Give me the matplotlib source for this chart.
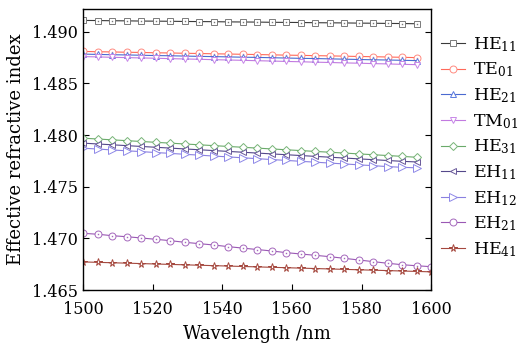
import matplotlib
matplotlib.use("Agg")
import matplotlib.pyplot as plt

plt.rcParams['font.family'] = ['DejaVu Serif']
plt.rcParams['mathtext.fontset'] = 'dejavuserif'

# Wavelength grid (nm)
wavelength = [1500.00, 1504.17, 1508.33, 1512.50, 1516.67, 1520.83, 1525.00, 1529.17,
              1533.33, 1537.50, 1541.67, 1545.83, 1550.00, 1554.17, 1558.33, 1562.50,
              1566.67, 1570.83, 1575.00, 1579.17, 1583.33, 1587.50, 1591.67, 1595.83,
              1600.00]

he11 = [1.49110, 1.49109, 1.49107, 1.49106, 1.49104, 1.49103, 1.49102, 1.49100,
        1.49099, 1.49098, 1.49096, 1.49095, 1.49094, 1.49092, 1.49091, 1.49090,
        1.49088, 1.49087, 1.49086, 1.49084, 1.49083, 1.49081, 1.49080, 1.49078]
te01 = [1.48810, 1.48807, 1.48805, 1.48802, 1.48800, 1.48797, 1.48795, 1.48792,
        1.48790, 1.48787, 1.48785, 1.48782, 1.48780, 1.48777, 1.48774, 1.48772,
        1.48769, 1.48767, 1.48764, 1.48761, 1.48759, 1.48756, 1.48753, 1.48750]
he21 = [1.48784, 1.48781, 1.48778, 1.48776, 1.48773, 1.48770, 1.48768, 1.48765,
        1.48762, 1.48760, 1.48757, 1.48754, 1.48752, 1.48749, 1.48746, 1.48743,
        1.48741, 1.48738, 1.48735, 1.48732, 1.48729, 1.48727, 1.48724, 1.48721]
tm01 = [1.48760, 1.48757, 1.48753, 1.48750, 1.48747, 1.48744, 1.48740, 1.48737,
        1.48734, 1.48730, 1.48727, 1.48724, 1.48720, 1.48717, 1.48713, 1.48710,
        1.48706, 1.48703, 1.48699, 1.48696, 1.48692, 1.48689, 1.48685, 1.48682]
he31 = [1.47970, 1.47962, 1.47954, 1.47946, 1.47938, 1.47930, 1.47922, 1.47914,
        1.47906, 1.47898, 1.47890, 1.47882, 1.47874, 1.47866, 1.47858, 1.47850,
        1.47842, 1.47834, 1.47826, 1.47818, 1.47810, 1.47802, 1.47794, 1.47785]
eh11 = [1.47922, 1.47914, 1.47906, 1.47898, 1.47890, 1.47882, 1.47874, 1.47866,
        1.47858, 1.47850, 1.47842, 1.47834, 1.47826, 1.47818, 1.47810, 1.47802,
        1.47794, 1.47786, 1.47778, 1.47770, 1.47762, 1.47754, 1.47746, 1.47740]
eh12 = [1.47873, 1.47865, 1.47856, 1.47848, 1.47840, 1.47831, 1.47823, 1.47814,
        1.47806, 1.47797, 1.47789, 1.47780, 1.47772, 1.47763, 1.47755, 1.47746,
        1.47738, 1.47729, 1.47721, 1.47712, 1.47704, 1.47695, 1.47688, 1.47683]
eh21 = [1.47049, 1.47040, 1.47026, 1.47016, 1.47004, 1.46991, 1.46978, 1.46962,
        1.46949, 1.46936, 1.46920, 1.46906, 1.46892, 1.46878, 1.46862, 1.46849,
        1.46836, 1.46823, 1.46807, 1.46791, 1.46775, 1.46759, 1.46745, 1.46735,
        1.46726]
he41 = [1.46772, 1.46768, 1.46764, 1.46760, 1.46756, 1.46752, 1.46748, 1.46744,
        1.46740, 1.46736, 1.46732, 1.46728, 1.46724, 1.46720, 1.46716, 1.46712,
        1.46708, 1.46704, 1.46700, 1.46696, 1.46692, 1.46688, 1.46684, 1.46680,
        1.46676]

labels = ["HE$_{11}$", "TE$_{01}$", "HE$_{21}$", "TM$_{01}$", "HE$_{31}$",
          "EH$_{11}$", "EH$_{12}$", "EH$_{21}$", "HE$_{41}$"]
series = [he11, te01, he21, tm01, he31, eh11, eh12, eh21, he41]
line_colors = ["#3a3a3a", "#ff6a5a", "#4a6ad0", "#c27ae0", "#6aaa6a",
               "#54488a", "#8a80e0", "#9a58b4", "#a5483e"]
marker_colors = ["#7a7a7a", "#ff8a80", "#5a7ae0", "#c888e8", "#78b478",
                 "#6a5a9a", "#8e88e8", "#a468bc", "#a5483e"]
markers = ["s", "o", "^", "v", "D", "<", ">", "o", "*"]
msizes = [4.5, 5, 5, 5, 4.2, 5, 5.5, 5, 5.5]
center_dot = [True, True, False, False, False, False, False, True, False]

fig = plt.figure(figsize=(5.2, 3.49), dpi=100)
ax = fig.add_axes([0.160, 0.169, 0.669, 0.805])

for y, lab, lc, mc, mk, ms, cd in zip(series, labels, line_colors, marker_colors,
                                       markers, msizes, center_dot):
    x = wavelength[:len(y)]
    ax.plot(x, y, color=lc, lw=0.8, marker=mk, ms=ms, mfc="white",
            mec=mc, mew=0.7, label=lab)
    if cd:
        ax.plot(x, y, ls="none", marker="s", ms=1.0, color=mc, mew=0)

ax.set_xlim(1500, 1600)
ax.set_ylim(1.465, 1.4922)
ax.set_xticks([1500, 1520, 1540, 1560, 1580, 1600])
ax.set_yticks([1.465, 1.470, 1.475, 1.480, 1.485, 1.490])
ax.set_yticklabels(["1.465", "1.470", "1.475", "1.480", "1.485", "1.490"])
ax.tick_params(axis="both", direction="in", length=4, width=0.8,
               labelsize=11.5, right=True, top=False)
ax.tick_params(axis="x", pad=8)
for sp in ax.spines.values():
    sp.set_linewidth(1.0)

ax.set_xlabel("Wavelength /nm", fontsize=13, labelpad=5)
ax.set_ylabel("Effective refractive index", fontsize=13, labelpad=5)

leg = fig.legend(loc="upper left", bbox_to_anchor=(441 / 520, 1 - 35 / 349),
                 frameon=False, fontsize=12.5, handlelength=1.4,
                 handletextpad=0.45, labelspacing=0.4, borderpad=0,
                 borderaxespad=0)

fig.savefig("out.png", dpi=100)
